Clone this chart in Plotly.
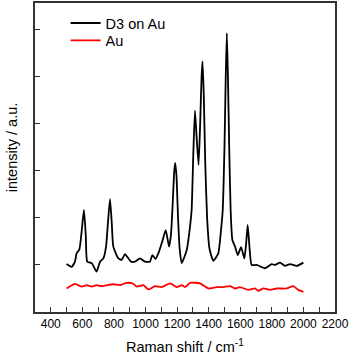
import plotly.graph_objects as go

# Raman shift (cm-1) and intensity (a.u.)
d3_shift = [500, 532, 553, 564, 581, 595, 610, 622, 631, 659, 690, 712, 733,
            750, 762, 775, 786, 796, 828, 849, 870, 908, 933, 965, 997, 1028,
            1043, 1064, 1085, 1106, 1128, 1149, 1161, 1172, 1182, 1188, 1196,
            1206, 1216, 1229, 1261, 1282, 1292, 1303, 1313, 1324, 1336, 1346,
            1355, 1361, 1369, 1378, 1390, 1405, 1429, 1461, 1478, 1489, 1500,
            1508, 1515, 1522, 1530, 1539, 1550, 1567, 1584, 1605, 1626, 1637,
            1647, 1658, 1672, 1704, 1757, 1799, 1820, 1852, 1883, 1915, 1957,
            2000]
d3_int = [1.02, 0.96, 1.07, 1.25, 1.33, 1.70, 2.17, 1.60, 1.07, 1.04, 0.86,
          1.07, 1.14, 1.39, 1.90, 2.40, 1.90, 1.39, 1.14, 1.11, 1.23, 1.07,
          1.07, 1.14, 1.07, 1.07, 1.21, 1.13, 1.28, 1.50, 1.74, 1.39, 1.64,
          2.30, 3.00, 3.17, 2.90, 2.00, 1.35, 1.04, 1.32, 1.82, 2.17, 3.40,
          4.28, 3.70, 3.13, 4.00, 5.00, 5.33, 4.60, 3.20, 2.00, 1.35, 1.09,
          1.25, 1.74, 2.17, 3.50, 5.00, 5.93, 5.00, 3.50, 2.17, 1.53, 1.39,
          1.21, 1.38, 1.14, 1.45, 1.85, 1.40, 1.00, 1.00, 0.93, 1.02, 1.00,
          1.05, 0.98, 1.02, 0.98, 1.05]

au_shift = [500, 553, 596, 627, 659, 690, 720, 796, 838, 881, 922, 944, 986,
            1018, 1060, 1102, 1155, 1197, 1229, 1250, 1282, 1345, 1398, 1451,
            1493, 1535, 1567, 1598, 1651, 1693, 1714, 1746, 1788, 1831, 1894,
            1936, 1967, 2000]
au_int = [0.50, 0.60, 0.54, 0.57, 0.54, 0.57, 0.55, 0.59, 0.57, 0.62, 0.60,
          0.54, 0.57, 0.48, 0.55, 0.53, 0.61, 0.53, 0.57, 0.53, 0.62, 0.61,
          0.50, 0.53, 0.53, 0.55, 0.50, 0.53, 0.47, 0.50, 0.45, 0.50, 0.47,
          0.50, 0.50, 0.55, 0.47, 0.43]

x_ticks = list(range(400, 2201, 200))

font = "Arial, Liberation Sans, sans-serif"

fig = go.Figure()
fig.add_trace(go.Scatter(x=d3_shift, y=d3_int, mode="lines", name="D3 on Au",
                         legend="legend",
                         line=dict(color="black", width=1.8, shape="spline",
                                   smoothing=0.5)))
fig.add_trace(go.Scatter(x=au_shift, y=au_int, mode="lines", name="Au",
                         legend="legend2",
                         line=dict(color="red", width=1.8, shape="spline",
                                   smoothing=0.5)))

# one legend per trace so the two rows sit as tightly as in the reference
legend_style = dict(x=0.102, xanchor="left", yanchor="middle",
                    bgcolor="rgba(0,0,0,0)", font=dict(size=14.5))

fig.update_layout(
    width=350, height=357,
    margin=dict(l=35, r=15, t=3, b=45),
    paper_bgcolor="white", plot_bgcolor="white",
    font=dict(family=font, size=12, color="black"),
    showlegend=True,
    legend=dict(y=0.935, **legend_style),
    legend2=dict(y=0.879, **legend_style),
    annotations=[
        dict(text="Raman shift / cm<sup>-1</sup>", xref="paper",
             yref="paper", x=0.5, y=-0.11, xanchor="center",
             yanchor="middle", showarrow=False, font=dict(size=14.5)),
        dict(text="intensity / a.u.", xref="paper", yref="paper",
             x=-0.078, y=0.532, xanchor="center", yanchor="middle",
             textangle=-90, showarrow=False, font=dict(size=14.5)),
    ],
)
fig.update_xaxes(
    range=[300, 2200], tickvals=x_ticks, ticks="inside", ticklen=5,
    tickcolor="#333", showline=True, linecolor="#333", linewidth=1.5,
    mirror=True, showgrid=False, zeroline=False, automargin=False,
    minor=dict(dtick=100, ticks="inside", ticklen=5, tickcolor="#333"),
)
fig.update_yaxes(
    range=[0, 6.57], tickvals=[1, 2, 3, 4, 5, 6], showticklabels=False,
    ticks="inside", ticklen=5, tickcolor="#333", showline=True,
    linecolor="#333", linewidth=1.5, mirror=True, showgrid=False,
    zeroline=False, automargin=False,
)

# the page body has a default 8px margin; drop it so the figure sits at 0,0
fig.write_html("out.html", config={"displayModeBar": False},
               post_script="document.body.style.margin='0';")
